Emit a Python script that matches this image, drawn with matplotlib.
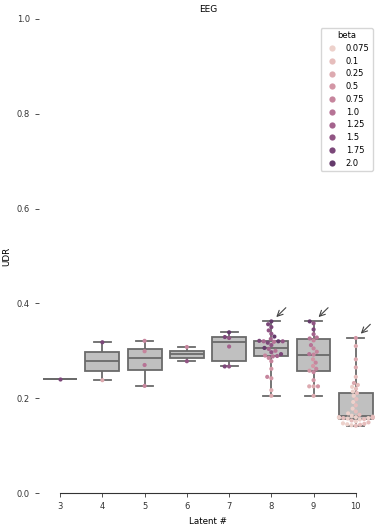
import numpy as np
import pandas as pd
import seaborn as sns
import matplotlib
matplotlib.use("Agg")
import matplotlib.pyplot as plt

# UDR scores per latent count, with the beta of each run
lat3 = [0.241]
beta3 = [1.75]
lat4 = [0.318, 0.238]
beta4 = [1.75, 0.25]
lat5 = [0.321, 0.299, 0.270, 0.226]
beta5 = [0.75, 0.75, 1.0, 0.75]
lat6 = [0.308, 0.278]
beta6 = [0.75, 1.5]
lat7 = [0.339, 0.329, 0.327, 0.309, 0.267, 0.267]
beta7 = [2.0, 1.75, 1.5, 1.25, 1.75, 1.5]
lat8 = [0.362, 0.356, 0.350, 0.343, 0.336, 0.330, 0.325, 0.321, 0.320, 0.320,
        0.320, 0.319, 0.317, 0.312, 0.306, 0.304, 0.300, 0.297, 0.293, 0.290,
        0.289, 0.288, 0.285, 0.278, 0.262, 0.245, 0.242, 0.217, 0.205]
beta8 = [2.0, 1.75, 1.75, 1.5, 1.5, 2.0, 1.25, 1.75, 1.5, 2.0,
         1.25, 1.0, 1.75, 1.5, 2.0, 1.25, 1.0, 1.5, 1.75, 0.75,
         1.25, 1.0, 0.75, 0.75, 0.5, 0.75, 0.5, 0.25, 0.25]
lat9 = [0.362, 0.358, 0.345, 0.335, 0.328, 0.326, 0.322, 0.312, 0.305, 0.298,
        0.293, 0.292, 0.282, 0.275, 0.268, 0.262, 0.258, 0.255, 0.238, 0.225,
        0.225, 0.225, 0.205]
beta9 = [2.0, 1.5, 1.75, 1.25, 1.0, 1.0, 0.75, 1.0, 0.75, 0.75,
         1.0, 0.75, 0.5, 0.75, 0.5, 0.75, 0.5, 0.75, 0.5, 0.25,
         0.5, 0.25, 0.25]
lat10 = [0.327, 0.310, 0.282, 0.265, 0.245, 0.232, 0.228, 0.224, 0.220, 0.214,
         0.211, 0.205, 0.198, 0.192, 0.185, 0.178, 0.172, 0.168, 0.165, 0.163,
         0.161, 0.160, 0.160, 0.159, 0.159, 0.159, 0.158, 0.158, 0.157, 0.156,
         0.155, 0.153, 0.151, 0.149, 0.147, 0.146, 0.145, 0.144, 0.143, 0.142]
beta10 = [0.5, 0.25, 0.25, 0.25, 0.1, 0.25, 0.1, 0.075, 0.1, 0.075,
          0.1, 0.075, 0.1, 0.075, 0.1, 0.075, 0.1, 0.075, 0.1, 0.075,
          0.1, 0.075, 0.1, 0.075, 0.25, 0.1, 0.075, 0.1, 0.075, 0.1,
          0.075, 0.1, 0.075, 0.1, 0.075, 0.1, 0.075, 0.1, 0.075, 0.1]
latents = [3, 4, 5, 6, 7, 8, 9, 10]
beta_levels = [0.075, 0.1, 0.25, 0.5, 0.75, 1.0, 1.25, 1.5, 1.75, 2.0]

udr_all = [lat3, lat4, lat5, lat6, lat7, lat8, lat9, lat10]
beta_all = [beta3, beta4, beta5, beta6, beta7, beta8, beta9, beta10]
rows = []
for n, vals, bs in zip(latents, udr_all, beta_all):
    for v, b in zip(vals, bs):
        rows.append((n, v, b))
df = pd.DataFrame(rows, columns=["latent", "udr", "beta"])

fig = plt.figure(figsize=(3.8, 5.26), dpi=100)
ax = fig.add_axes([0.1026, 0.0627, 0.8894, 0.9013])

sns.boxplot(x="latent", y="udr", data=df, order=latents, color="#c0c0c0",
            saturation=1, linecolor="#6a6a6a", linewidth=1.3,
            whis=(0, 100), showfliers=False, ax=ax)
pal = sns.cubehelix_palette(10, start=0, rot=0.4, light=0.85, dark=0.3)
sns.swarmplot(x="latent", y="udr", hue="beta", data=df, order=latents,
              hue_order=beta_levels, palette=pal, size=3.0, ax=ax)

# arrows at the best runs
for n, top in zip([8, 9, 10], [lat8[0], lat9[0], lat10[0]]):
    i = latents.index(n)
    ax.annotate("", xy=(i + 0.07, top + 0.005), xytext=(i + 0.39, top + 0.033),
                arrowprops=dict(arrowstyle="->", color="#444444", lw=0.8))

ax.set_ylim(0, 1.0)
ax.set_xlim(-0.5, 7.5)
ax.set_yticks([0.0, 0.2, 0.4, 0.6, 0.8, 1.0])
ax.tick_params(labelsize=6, length=3, width=0.6, colors="#333333")
for s in ["top", "right", "left"]:
    ax.spines[s].set_visible(False)
ax.spines["bottom"].set_bounds(0, 7)
ax.spines["bottom"].set_color("#333333")
ax.set_xlabel("Latent #", fontsize=6.3)
ax.set_ylabel("UDR", fontsize=6.3)
ax.set_title("EEG", fontsize=6.5, pad=5)

leg = ax.legend(title="beta", loc="upper right", fontsize=6, title_fontsize=6,
                labelspacing=0.45, markerscale=1.5, handletextpad=0.6,
                bbox_to_anchor=(1.0, 0.99))

fig.savefig("out.png", dpi=100)
